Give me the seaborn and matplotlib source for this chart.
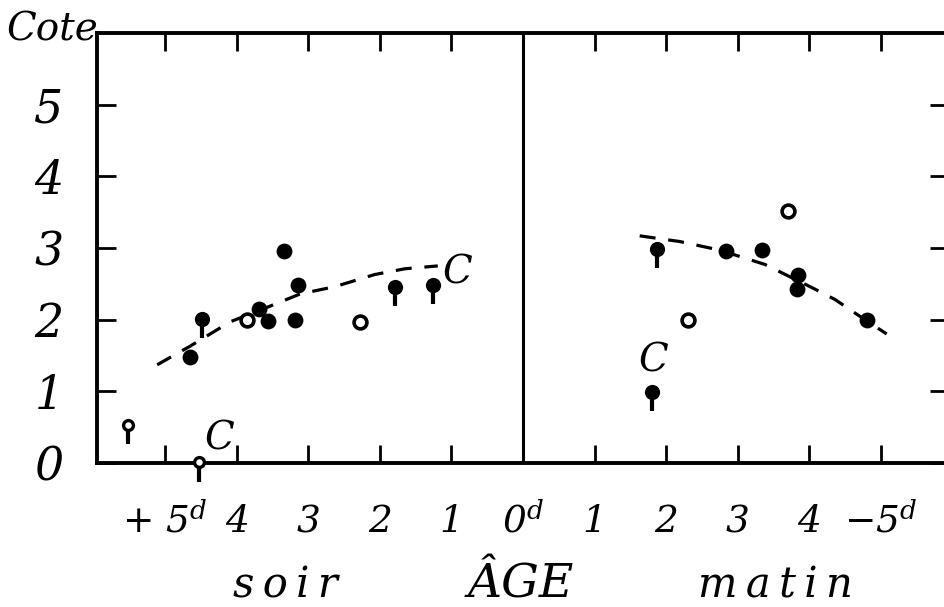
import numpy as np
import seaborn as sns
import matplotlib.pyplot as plt

# values; negative t = "soir" side, positive t = "matin" side
filled_t = [-4.65, -3.69, -3.56, -3.18, -3.34, -3.14, 2.84, 3.34, 3.84, 3.83, 4.80]
filled_cote = [1.48, 2.15, 1.98, 2.00, 2.96, 2.49, 2.96, 2.97, 2.63, 2.43, 2.00]

filled_stem_t = [-4.48, -1.79, -1.26, 1.87, 1.80]
filled_stem_cote = [2.01, 2.46, 2.49, 2.99, 0.99]

open_t = [-3.85, -2.28, 2.30, 3.70]
open_cote = [2.00, 1.97, 2.00, 3.51]

open_stem_t = [-5.52, -4.53]
open_stem_cote = [0.53, 0.01]

soir_curve_t = [-5.11, -4.65, -4.09, -3.53, -3.11, -2.63, -2.07, -1.65, -1.19]
soir_curve_cote = [1.37, 1.63, 1.97, 2.19, 2.36, 2.46, 2.63, 2.71, 2.75]
matin_curve_t = [1.63, 2.19, 2.75, 3.38, 4.05, 4.36, 4.61, 5.08]
matin_curve_cote = [3.17, 3.09, 2.97, 2.77, 2.44, 2.28, 2.11, 1.80]

x_ticks = [-5, -4, -3, -2, -1, 0, 1, 2, 3, 4, 5]
x_labels = [r'$+\ 5^{d}$', '4', '3', '2', '1', r'$0^{d}$', '1', '2', '3', '4', r'$-5^{d}$']
y_ticks = [0, 1, 2, 3, 4, 5]
y_labels = ['0', '1', '2', '3', '4', '5']

sns.set_style('white')
plt.rcParams['font.family'] = ['DejaVu Serif']
plt.rcParams['font.style'] = 'italic'
plt.rcParams['text.color'] = 'black'
plt.rcParams['mathtext.fontset'] = 'custom'
plt.rcParams['mathtext.rm'] = 'DejaVu Serif:italic'
plt.rcParams['mathtext.it'] = 'DejaVu Serif:italic'

fig = plt.figure(figsize=(9.44, 6.07), dpi=100)
ax = fig.add_axes([97 / 944, 144 / 607, 852 / 944, 430 / 607])

dash = (0, (5, 4))
sns.lineplot(x=soir_curve_t, y=soir_curve_cote, ax=ax, color='black', lw=2.3,
             linestyle=dash, sort=False, estimator=None)
sns.lineplot(x=matin_curve_t, y=matin_curve_cote, ax=ax, color='black', lw=2.3,
             linestyle=dash, sort=False, estimator=None)

ax.axvline(0, color='black', lw=2.2, zorder=2)

# stems under the "lollipop" marks
st = np.array(filled_stem_t)
sc = np.array(filled_stem_cote)
ax.vlines(st, sc - 0.05, sc - 0.27, colors='black', lw=3.0, zorder=3, clip_on=False)
ot = np.array(open_stem_t)
oc = np.array(open_stem_cote)
ax.vlines(ot, oc - 0.08, oc - 0.27, colors='black', lw=3.0, zorder=3, clip_on=False)

sns.scatterplot(x=filled_t, y=filled_cote, ax=ax, s=130, color='black',
                edgecolor='black', linewidth=0, zorder=4, clip_on=False)
sns.scatterplot(x=filled_stem_t, y=filled_stem_cote, ax=ax, s=120, color='black',
                edgecolor='black', linewidth=0, zorder=4, clip_on=False)
sns.scatterplot(x=open_t, y=open_cote, ax=ax, s=85, facecolor='white',
                edgecolor='black', linewidth=2.6, zorder=4, clip_on=False)
sns.scatterplot(x=open_stem_t, y=open_stem_cote, ax=ax, s=50, facecolor='white',
                edgecolor='black', linewidth=2.4, zorder=4, clip_on=False)

ax.set_xlim(-5.95, 5.95)
ax.set_ylim(0, 6)
ax.set_xticks(x_ticks, x_labels)
ax.set_yticks(y_ticks, y_labels)
ax.tick_params(axis='x', direction='in', length=13, width=2, top=True, bottom=True,
               labelsize=27, pad=50, colors='black')
ax.tick_params(axis='y', direction='in', length=14, width=2, left=True, right=True,
               labelsize=33, pad=24, colors='black')
plt.setp(ax.get_xticklabels(), va='baseline')
for sp in ax.spines.values():
    sp.set_linewidth(2.8)
    sp.set_color('black')

ax.text(-0.92, 2.65, 'C', fontsize=28, ha='center', va='center')
ax.text(-4.24, 0.33, 'C', fontsize=28, ha='center', va='center')
ax.text(1.82, 1.42, 'C', fontsize=28, ha='center', va='center')

fig.text(52 / 944, 1 - 30 / 607, 'Cote', fontsize=28, ha='center', va='center')
fig.text(285 / 944, 10 / 607, 's\u2009o\u2009i\u2009r', fontsize=30, ha='center', va='baseline')
fig.text(521 / 944, 10 / 607, 'ÂGE', fontsize=34, ha='center', va='baseline')
fig.text(775 / 944, 10 / 607, 'm\u2009a\u2009t\u2009i\u2009n', fontsize=30, ha='center', va='baseline')

fig.savefig('out.png', dpi=100)
